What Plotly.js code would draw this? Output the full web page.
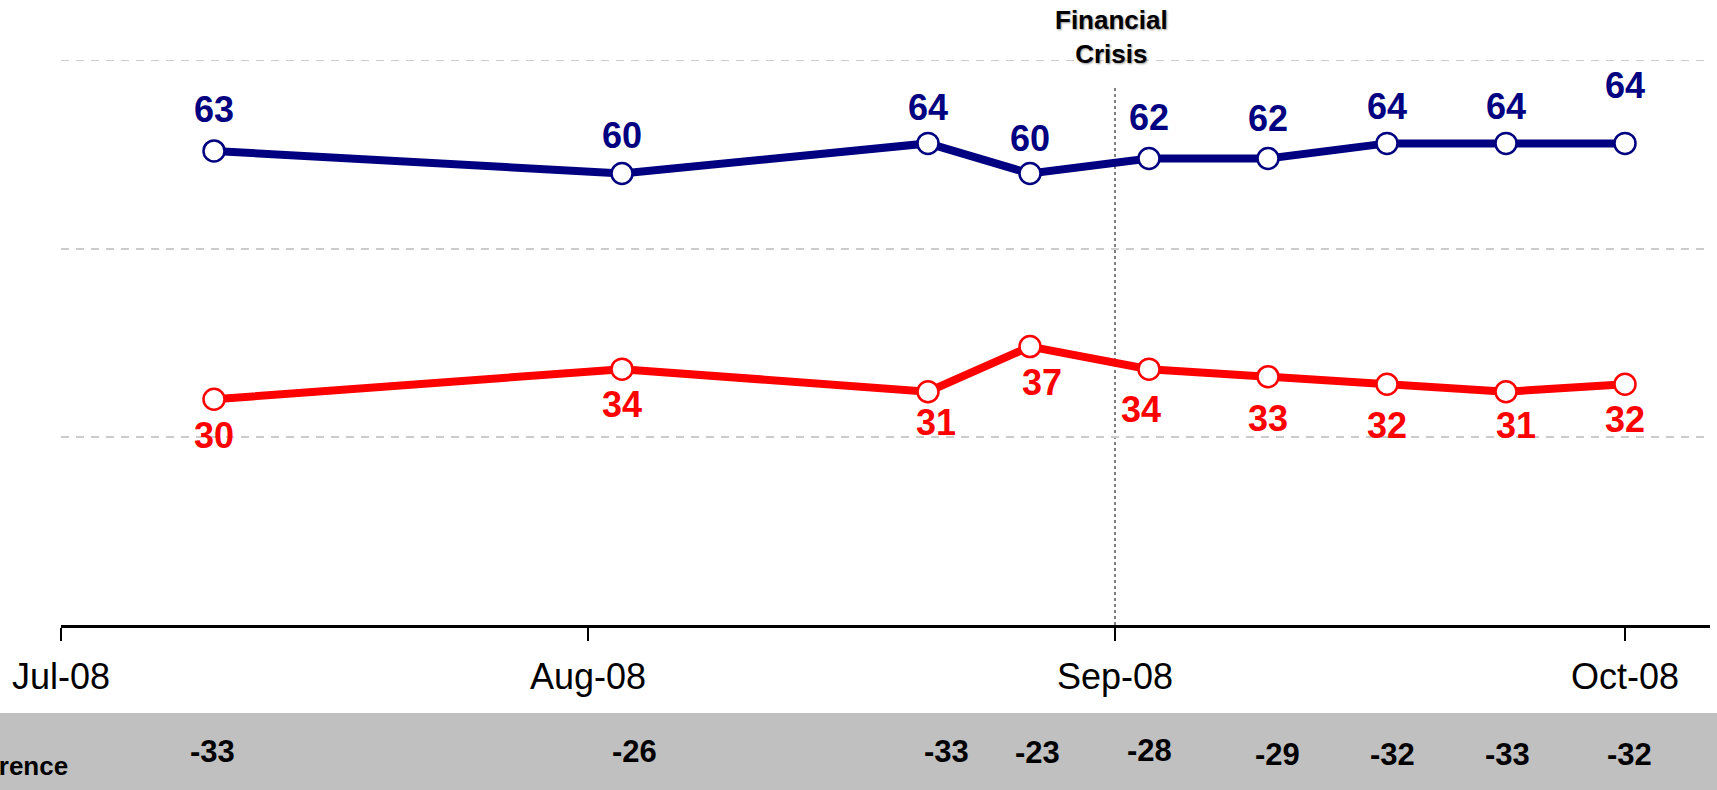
<!DOCTYPE html>
<html>
<head>
<meta charset="utf-8">
<script src="https://cdn.plot.ly/plotly-3.0.1.min.js"></script>
<style>
  html, body { margin: 0; padding: 0; background: #ffffff; }
  #chart { width: 1717px; height: 790px; }
</style>
</head>
<body>
<div id="chart"></div>
<script>
// ---- data ----
const surveyDates = ['2008-07-10', '2008-08-03', '2008-08-21', '2008-08-27', '2008-09-03', '2008-09-10', '2008-09-17', '2008-09-24', '2008-10-01'];
const blueValues = [63, 60, 64, 60, 62, 62, 64, 64, 64];
const redValues = [30, 34, 31, 37, 34, 33, 32, 31, 32];
const differenceValues = [-33, -26, -33, -23, -28, -29, -32, -33, -32];
const differenceLabel = 'Difference';
const tickDates = ['2008-07-01', '2008-08-01', '2008-09-01', '2008-10-01'];
const tickLabels = ['Jul-08', 'Aug-08', 'Sep-08', 'Oct-08'];
const eventDate = '2008-09-01';
const eventLabel = 'Financial<br>Crisis';

// ---- styling / placement (pixels) ----
const FONT = 'Liberation Sans, Arial, Helvetica, sans-serif';
const BLUE = '#000080';
const RED = '#ff0000';
const blueLift = [41, 38, 36, 35, 41, 40, 37, 37, 58];
const redDrop = [36, 35, 31, 36, 40, 42, 41, 34, 35];
const redDx = [0, 0, 8, 12, -8, 0, 0, 10, 0];
const diffDx = [-2, 12, 18, 7, 0, 9, 5, 1, 4];
const diffDrop = [126, 126, 126, 127, 125, 129, 129, 129, 129];

function lineTrace(vals, color) {
  return {
    type: 'scatter',
    mode: 'lines+markers',
    x: surveyDates,
    y: vals,
    line: { color: color, width: 8 },
    marker: { size: 21, color: '#ffffff', line: { color: color, width: 2.5 } },
    hoverinfo: 'skip',
    cliponaxis: false,
    showlegend: false
  };
}

const annotations = [];
surveyDates.forEach((d, i) => {
  annotations.push({
    x: d, y: blueValues[i], xref: 'x', yref: 'y',
    text: String(blueValues[i]), showarrow: false,
    xanchor: 'center', yanchor: 'middle', yshift: blueLift[i],
    font: { family: FONT, size: 36, color: BLUE, weight: 700 }
  });
  annotations.push({
    x: d, y: redValues[i], xref: 'x', yref: 'y',
    text: String(redValues[i]), showarrow: false,
    xanchor: 'center', yanchor: 'middle', yshift: -redDrop[i], xshift: redDx[i],
    font: { family: FONT, size: 36, color: RED, weight: 700 }
  });
  annotations.push({
    x: d, y: 0, xref: 'x', yref: 'paper',
    text: String(differenceValues[i]), showarrow: false,
    xanchor: 'center', yanchor: 'middle', yshift: -diffDrop[i], xshift: diffDx[i],
    font: { family: FONT, size: 31, color: '#000000', weight: 700 }
  });
});
annotations.push({
  x: 0.0055, y: 0, xref: 'paper', yref: 'paper',
  text: differenceLabel, showarrow: false,
  xanchor: 'right', yanchor: 'middle', yshift: -141,
  font: { family: FONT, size: 26, color: '#000000', weight: 700 }
});
annotations.push({
  x: eventDate, y: 1, xref: 'x', yref: 'paper',
  text: eventLabel, showarrow: false,
  xanchor: 'center', yanchor: 'middle', yshift: -14, xshift: -4,
  font: { family: FONT, size: 26, color: '#000000', weight: 700, shadow: '1px 1px 2px #999999' }
});

const layout = {
  width: 1717,
  height: 790,
  margin: { l: 61, r: 7, t: 23, b: 165, pad: 0 },
  paper_bgcolor: '#ffffff',
  plot_bgcolor: '#ffffff',
  showlegend: false,
  xaxis: {
    type: 'date',
    range: ['2008-07-01', '2008-10-06'],
    tickvals: tickDates,
    ticktext: tickLabels,
    showgrid: false,
    zeroline: false,
    showline: true,
    linecolor: '#000000',
    linewidth: 2.5,
    ticks: 'outside',
    ticklen: 13,
    tickwidth: 2,
    tickcolor: '#000000',
    ticklabelstandoff: 5,
    tickfont: { family: FONT, size: 36, color: '#000000' },
    fixedrange: true
  },
  yaxis: {
    range: [0, 80],
    tickvals: [25, 50, 75],
    showticklabels: false,
    ticks: '',
    showgrid: true,
    gridcolor: '#cccccc',
    gridwidth: 1.5,
    griddash: '8px,7px',
    zeroline: false,
    showline: false,
    fixedrange: true
  },
  shapes: [
    {
      type: 'rect', xref: 'paper', yref: 'paper',
      x0: -0.05, x1: 1.05, y0: -0.1462, y1: -0.3,
      fillcolor: '#c0c0c0', line: { width: 0 }, layer: 'below'
    },
    {
      type: 'line', xref: 'x', yref: 'paper',
      x0: eventDate, x1: eventDate, y0: 0, y1: 0.892,
      line: { color: '#000000', width: 1, dash: 'dot' }, layer: 'below'
    }
  ],
  annotations: annotations
};

Plotly.newPlot('chart', [lineTrace(blueValues, BLUE), lineTrace(redValues, RED)], layout, { displayModeBar: false, staticPlot: true });
</script>
</body>
</html>
